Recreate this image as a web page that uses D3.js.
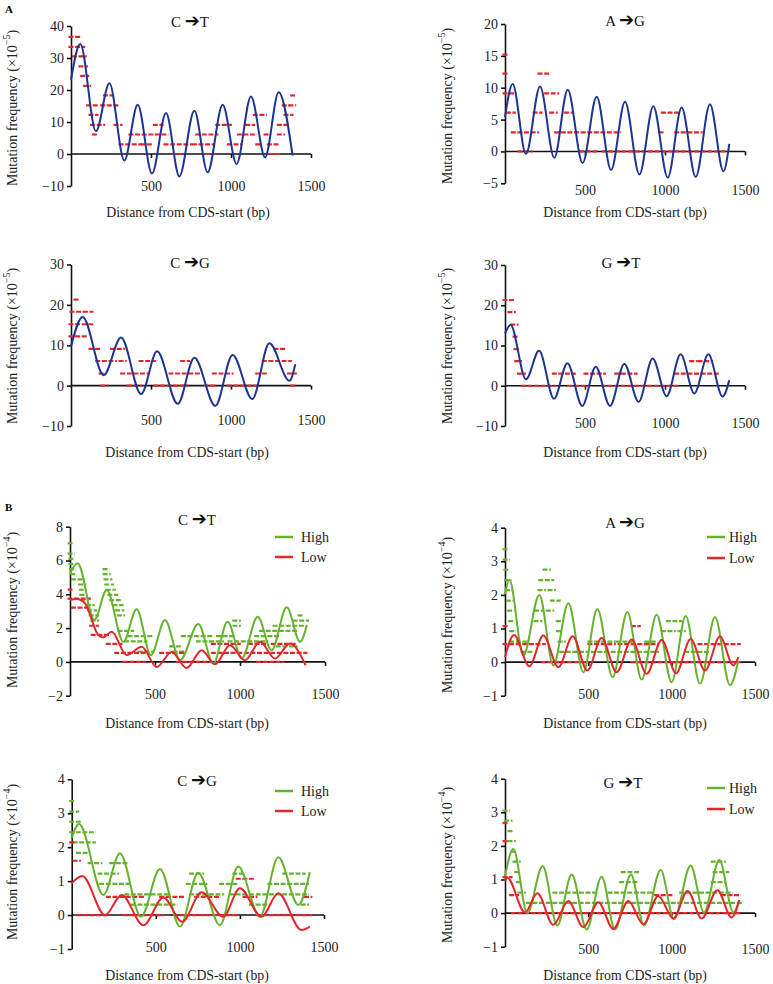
<!DOCTYPE html>
<html><head><meta charset="utf-8">
<script src="https://cdn.jsdelivr.net/npm/d3@7"></script>
<style>body{margin:0;background:#fff}svg{display:block}</style>
</head><body>
<svg id="c" width="773" height="984"></svg>
<script>
// ---------- DATA ----------
const xTicks = [500, 1000, 1500];
const yTicksA1 = [-10, 0, 10, 20, 30, 40];
const yTicksA2 = [-5, 0, 5, 10, 15, 20];
const yTicksA3 = [-10, 0, 10, 20, 30];
const yTicksB1 = [-2, 0, 2, 4, 6, 8];
const yTicksB2 = [-1, 0, 1, 2, 3, 4];

// A: C->T (x10^-5)
const a1CurveX = [0, 58, 156, 240, 333, 417, 506, 594, 677, 771, 854, 948, 1035, 1125, 1213, 1298, 1385];
const a1CurveY = [23.2, 34.4, 7.1, 22.1, -2.0, 15.4, -6.1, 12.8, -7.0, 13.5, -5.7, 15.4, -3.1, 18.0, -1.0, 19.3, -0.5];
const a1Runs = [[0,52,36.6],[0,73,33.5],[21,83,30.5],[62,90,27.4],[73,98,24.4],[90,110,21.3],[215,250,18.3],[110,156,15.2],[198,281,15.2],[1333,1354,15.2],[1375,1392,15.2],[125,156,12.2],[1152,1208,12.2],[1344,1375,12.2],[135,198,9.1],[281,306,9.1],[527,563,9.1],[917,990,9.1],[1104,1135,9.1],[1302,1344,9.1],[146,146,6.1],[375,594,6.1],[792,906,6.1],[1052,1146,6.1],[1219,1219,6.1],[1302,1323,6.1],[313,427,3.0],[448,490,3.0],[594,740,3.0],[771,885,3.0],[990,1052,3.0],[1167,1177,3.0],[1240,1281,3.0],[646,677,0],[854,885,0],[1250,1302,0],[1385,1385,18.3]];

// A: A->G
const a2CurveX = [0, 48, 131, 219, 308, 392, 485, 573, 663, 750, 840, 927, 1017, 1104, 1192, 1281, 1365, 1402];
const a2CurveY = [5.4, 10.6, -0.4, 10.2, -1.0, 9.7, -1.8, 8.6, -2.9, 7.8, -3.6, 7.1, -4.1, 6.9, -4.0, 7.4, -3.1, 1.2];
const a2Runs = [[0,8,15.2],[0,10,12.2],[219,260,12.2],[0,42,9.1],[260,323,9.1],[21,52,6.1],[188,219,6.1],[292,313,6.1],[385,406,6.1],[990,1083,6.1],[52,198,3.0],[323,708,3.0],[975,975,3.0],[1073,1219,3.0],[94,156,0],[480,560,0],[620,1385,0]];

// A: C->G
const a3CurveX = [0, 73, 204, 313, 438, 538, 667, 771, 902, 1010, 1133, 1240, 1365, 1402];
const a3CurveY = [9.7, 17.0, 2.6, 11.9, -2.1, 8.5, -4.5, 6.9, -5.0, 7.6, -3.3, 10.5, 1.2, 5.3];
const a3Runs = [[31,31,21.3],[6,63,18.3],[90,125,18.3],[0,125,15.2],[0,83,12.2],[125,177,9.1],[260,323,9.1],[1281,1323,9.1],[167,271,6.1],[313,333,6.1],[438,515,6.1],[698,729,6.1],[1208,1365,6.1],[188,198,3.0],[323,469,3.0],[625,802,3.0],[896,1000,3.0],[1167,1219,3.0],[1365,1396,3.0],[198,219,0],[365,427,0],[531,719,0],[844,885,0],[990,1156,0],[1385,1396,0]];

// A: G->T
const a4CurveX = [0, 35, 131, 213, 306, 390, 483, 567, 656, 746, 835, 923, 1010, 1098, 1183, 1271, 1360, 1402];
const a4CurveY = [13.0, 15.1, 1.6, 8.7, -3.2, 5.6, -5.0, 4.7, -5.0, 5.4, -4.0, 6.8, -2.6, 7.8, -1.9, 7.8, -2.7, 1.4];
const a4Runs = [[0,42,21.3],[31,52,18.3],[48,69,15.2],[63,73,12.2],[69,77,9.1],[73,90,6.1],[90,115,3.0],[308,427,3.0],[506,615,3.0],[698,813,3.0],[1073,1323,3.0],[1167,1188,6.1],[1219,1281,6.1],[115,302,0],[406,510,0],[615,1073,0]];

// B: C->T (x10^-4)
const b1HighX = [0, 45, 143, 216, 314, 392, 476, 559, 647, 755, 843, 927, 1010, 1104, 1186, 1275, 1353, 1392];
const b1HighY = [5.25, 5.84, 2.48, 4.26, 1.19, 3.11, 0.40, 2.48, 0.10, 2.24, -0.1, 2.38, 0.2, 2.67, 0.69, 3.23, 1.19, 2.12];
const b1LowX = [0, 39, 88, 167, 196, 245, 333, 422, 510, 598, 686, 775, 853, 941, 1029, 1118, 1206, 1294, 1386];
const b1LowY = [3.66, 3.72, 3.47, 1.58, 1.45, 1.78, 0.40, 0.89, -0.30, 0.59, -0.36, 0.69, -0.14, 0.99, 0.10, 1.19, 0.20, 1.09, -0.2];
const b1HighRuns = [[0,8,7.02],[0,12,6.41],[5,15,6.10],[5,18,5.80],[10,22,5.49],[15,25,5.19],[20,30,4.88],[59,75,4.88],[62,80,4.58],[66,84,4.27],[70,88,3.97],[75,92,3.66],[108,130,3.36],[115,145,3.05],[125,157,2.75],[135,157,2.44],[206,216,5.49],[206,225,5.19],[212,235,4.88],[216,245,4.58],[225,255,4.27],[235,270,3.97],[245,290,3.66],[265,300,3.36],[280,304,3.05],[290,310,2.75],[294,363,1.83],[353,480,1.53],[667,833,1.53],[333,441,1.22],[755,892,1.22],[412,480,0.61],[618,657,0.61],[598,647,0.92],[1324,1392,2.44],[1206,1382,2.14],[1127,1324,1.83],[873,951,1.53],[1098,1225,1.53],[941,1147,1.22],[1225,1324,0.92],[970,990,2.14],[970,990,2.44],[1353,1353,2.75]];
const b1LowRuns = [[0,108,3.75],[20,88,3.21],[0,5,4.28],[127,157,2.14],[137,225,1.60],[225,294,1.07],[275,431,0.535],[539,657,0.535],[843,1382,0.535],[843,990,1.07],[1061,1139,1.07],[1196,1314,1.07],[324,431,0],[637,843,0],[1108,1245,0]];

// B: A->G
const b2HighX = [0, 26, 110, 206, 290, 380, 470, 554, 646, 734, 820, 910, 1000, 1084, 1170, 1260, 1350, 1400];
const b2HighY = [2.03, 2.45, 0.2, 2.0, -0.1, 1.75, -0.3, 1.58, -0.45, 1.49, -0.52, 1.41, -0.6, 1.37, -0.64, 1.34, -0.69, 0.05];
const b2LowX = [0, 54, 146, 230, 320, 406, 494, 580, 670, 760, 850, 940, 1026, 1114, 1200, 1290, 1370, 1400];
const b2LowY = [0.15, 0.81, -0.12, 0.79, -0.15, 0.77, -0.25, 0.72, -0.3, 0.67, -0.35, 0.66, -0.33, 0.69, -0.25, 0.76, -0.1, 0.15];
const b2HighRuns = [[0,6,3.36],[0,14,3.05],[5,12,2.75],[10,24,2.44],[15,28,2.14],[20,34,1.83],[28,40,1.53],[34,46,1.22],[40,52,0.92],[40,130,0.61],[110,150,0.305],[240,260,2.75],[214,280,2.44],[210,230,2.14],[270,290,2.14],[284,320,1.83],[190,220,1.53],[260,280,1.53],[186,210,1.22],[320,340,1.22],[320,330,0.92],[330,350,0.61],[510,650,0.61],[680,770,0.61],[850,890,0.61],[340,490,0.305],[530,910,0.305],[1090,1210,0.305],[980,1050,1.22],[950,1010,0.92],[1050,1070,0.92]];
const b2LowRuns = [[0,4,1.07],[770,800,1.07],[0,230,0.535],[510,650,0.535],[690,910,0.535],[1170,1400,0.535],[230,490,0],[770,1400,0]];

// B: C->G
const b3HighX = [0, 44, 188, 287, 412, 525, 644, 752, 881, 990, 1119, 1228, 1347, 1416];
const b3HighY = [2.27, 2.68, 0.59, 1.82, -0.05, 1.36, -0.34, 1.25, -0.3, 1.43, -0.05, 1.70, 0.30, 1.26];
const b3LowX = [0, 63, 198, 297, 426, 545, 657, 772, 901, 1000, 1129, 1228, 1366, 1416];
const b3LowY = [0.94, 1.15, 0.0, 0.59, -0.3, 0.52, -0.2, 0.67, -0.05, 0.79, -0.05, 0.64, -0.44, -0.34];
const b3HighRuns = [[0,3,3.36],[0,30,3.05],[0,40,2.75],[0,129,2.44],[20,129,2.14],[40,89,1.83],[109,168,1.53],[168,267,1.22],[178,337,0.92],[238,327,1.53],[327,574,0.61],[713,891,0.61],[1109,1396,0.61],[366,614,0.305],[1069,1148,0.305],[1376,1396,0.305],[693,792,0.92],[891,970,0.92],[1178,1396,0.92],[713,772,1.22],[970,1010,1.22],[1267,1376,1.22],[950,1070,0.61]];
const b3LowRuns = [[0,10,2.14],[20,40,1.60],[990,1069,1.07],[218,416,0.535],[535,653,0.535],[743,871,0.535],[1030,1089,0.535],[1396,1416,0.535],[40,198,0],[317,535,0],[653,970,0],[1109,1416,0]];

// B: G->T
const b4HighX = [0, 50, 134, 226, 314, 400, 490, 580, 660, 756, 834, 934, 1014, 1114, 1194, 1286, 1370, 1406];
const b4HighY = [1.1, 1.91, 0.0, 1.40, -0.37, 1.15, -0.49, 1.08, -0.49, 1.15, -0.37, 1.28, -0.18, 1.42, 0.02, 1.58, 0.02, 0.39];
const b4LowX = [0, 14, 120, 194, 290, 380, 470, 560, 650, 740, 830, 920, 1010, 1096, 1180, 1274, 1360, 1406];
const b4LowY = [0.96, 1.05, 0.02, 0.59, -0.35, 0.36, -0.42, 0.32, -0.47, 0.36, -0.33, 0.51, -0.16, 0.66, -0.16, 0.68, -0.13, 0.39];
const b4HighRuns = [[0,14,3.05],[10,30,2.75],[30,40,2.44],[30,50,2.14],[50,60,1.83],[60,80,1.53],[70,80,1.22],[80,90,0.92],[90,110,0.61],[300,550,0.61],[630,850,0.61],[880,890,0.61],[1060,1350,0.61],[140,910,0.305],[930,1410,0.305],[710,790,1.22],[700,790,0.92],[1250,1310,0.92],[1250,1310,1.53],[1260,1330,1.22]];
const b4LowRuns = [[0,3,2.68],[0,10,2.14],[0,30,1.07],[40,70,0.535],[910,1000,0.535],[1310,1400,0.535],[50,1400,0]];

const seriesNames = ["High", "Low"];

// ---------- STYLE / LAYOUT ----------
const BLUE = "#1e3590", RED = "#e2272c", GREEN = "#66b22f";
const FONT = "'Liberation Serif','Times New Roman',serif";
const svg = d3.select("#c");

const panels = [
  {t:["C","T"], xr:[71,311], yr:[186,26], yd:[-10,40], yt:yTicksA1, exp:"−5", ylx:12, yly:108, xty:212, xtx:188, xly:186, tx:190, ty:22,
   series:[{x:a1CurveX,y:a1CurveY,runs:a1Runs,c:BLUE,rc:RED}]},
  {t:["A","G"], xr:[505,745], yr:[183.3,24], yd:[-5,20], yt:yTicksA2, exp:"−5", ylx:447, yly:106, xty:212, xtx:625, xly:190, tx:625, ty:21,
   series:[{x:a2CurveX,y:a2CurveY,runs:a2Runs,c:BLUE,rc:RED}]},
  {t:["C","G"], xr:[71,311], yr:[426,264.5], yd:[-10,30], yt:yTicksA3, exp:"−5", ylx:12, yly:346, xty:452, xtx:187, xly:420, tx:190, ty:263,
   series:[{x:a3CurveX,y:a3CurveY,runs:a3Runs,c:BLUE,rc:RED}]},
  {t:["G","T"], xr:[505,745], yr:[426,265], yd:[-10,30], yt:yTicksA3, exp:"−5", ylx:447, yly:346, xty:452, xtx:625, xly:423, tx:621, ty:263,
   series:[{x:a4CurveX,y:a4CurveY,runs:a4Runs,c:BLUE,rc:RED}]},
  {t:["C","T"], xr:[70,325], yr:[695.7,526.7], yd:[-2,8], yt:yTicksB1, exp:"−4", ylx:12, yly:610, xty:723, xtx:187, xly:694, tx:197, ty:520,
   leg:{x1:275,x2:293,tx:301,y1:537,y2:557},
   series:[{x:b1HighX,y:b1HighY,runs:b1HighRuns,c:GREEN,rc:GREEN},{x:b1LowX,y:b1LowY,runs:b1LowRuns,c:RED,rc:RED}]},
  {t:["A","G"], xr:[505,755], yr:[695.7,527.7], yd:[-1,4], yt:yTicksB2, exp:"−4", ylx:447, yly:615, xty:723, xtx:625, xly:694, tx:625, ty:523,
   leg:{x1:707,x2:725,tx:729,y1:537,y2:558},
   series:[{x:b2HighX,y:b2HighY,runs:b2HighRuns,c:GREEN,rc:GREEN},{x:b2LowX,y:b2LowY,runs:b2LowRuns,c:RED,rc:RED}]},
  {t:["C","G"], xr:[71.7,324], yr:[949,779.3], yd:[-1,4], yt:yTicksB2, exp:"−4", ylx:12, yly:862, xty:975, xtx:187, xly:947, tx:197, ty:781,
   leg:{x1:275,x2:293,tx:301,y1:791,y2:811},
   series:[{x:b3HighX,y:b3HighY,runs:b3HighRuns,c:GREEN,rc:GREEN},{x:b3LowX,y:b3LowY,runs:b3LowRuns,c:RED,rc:RED}]},
  {t:["G","T"], xr:[505,755], yr:[946.7,778.7], yd:[-1,4], yt:yTicksB2, exp:"−4", ylx:447, yly:865, xty:975, xtx:625, xly:949, tx:623, ty:783,
   leg:{x1:707,x2:725,tx:729,y1:788,y2:809},
   series:[{x:b4HighX,y:b4HighY,runs:b4HighRuns,c:GREEN,rc:GREEN},{x:b4LowX,y:b4LowY,runs:b4LowRuns,c:RED,rc:RED}]}
];

// section letters
svg.append("text").attr("x",5).attr("y",13).attr("font-family",FONT).attr("font-weight","bold").attr("font-size",11).text("A");
svg.append("text").attr("x",5).attr("y",511).attr("font-family",FONT).attr("font-weight","bold").attr("font-size",11).text("B");

const fmt = d3.format("d");

panels.forEach(p => {
  const g = svg.append("g");
  const x = d3.scaleLinear().domain([0,1500]).range(p.xr);
  const y = d3.scaleLinear().domain(p.yd).range(p.yr);

  // y axis
  const ya = g.append("g").attr("transform",`translate(${x(0)},0)`)
    .call(d3.axisLeft(y).tickValues(p.yt).tickSize(4).tickSizeOuter(0).tickPadding(3).tickFormat(fmt));
  // x axis at zero
  const xa = g.append("g").attr("transform",`translate(0,${y(0)})`)
    .call(d3.axisBottom(x).tickValues(xTicks).tickSize(4).tickSizeOuter(0).tickFormat(fmt));
  [ya, xa].forEach(a => {
    a.attr("font-family", FONT).attr("font-size", 14);
    a.selectAll("path,line").attr("stroke","#111").attr("stroke-width",1.6);
    a.selectAll("text").attr("fill","#222");
  });
  xa.select(".domain").attr("d", `M${x(0)},0H${x(1500)}`);
  xa.selectAll("text").attr("y", p.xly - y(0)).attr("dy","0.35em");

  // data dashes
  p.series.forEach(s => {
    g.append("g").selectAll("line").data(s.runs).join("line")
      .attr("x1", d => x(d[0]) - 2.5).attr("x2", d => x(d[1]) + 2.5)
      .attr("y1", d => y(d[2])).attr("y2", d => y(d[2]))
      .attr("stroke", s.rc).attr("stroke-width", 2.2)
      .attr("stroke-dasharray", "5,1.6");
  });
  // fitted curves
  p.series.forEach(s => {
    const line = d3.line().x(i => x(s.x[i])).y(i => y(s.y[i])).curve(d3.curveMonotoneX);
    g.append("path").attr("d", line(d3.range(s.x.length)))
      .attr("fill","none").attr("stroke", s.c).attr("stroke-width", 2);
  });

  // title  X -> Y
  const tt = g.append("text").attr("x",p.tx).attr("y",p.ty).attr("dy","0.35em")
    .attr("text-anchor","middle").attr("font-family",FONT).attr("font-size",15).attr("fill","#111");
  tt.append("tspan").text(p.t[0] + " ");
  tt.append("tspan").attr("font-family","'DejaVu Sans'").attr("font-size",18).text("➔");
  tt.append("tspan").text(p.t[1]);

  // y label
  const yl = g.append("text").attr("transform",`translate(${p.ylx},${p.yly}) rotate(-90)`)
    .attr("text-anchor","middle").attr("dy","0.35em").attr("font-family",FONT).attr("font-size",14).attr("fill","#222");
  yl.append("tspan").text("Mutation frequency (×10");
  yl.append("tspan").attr("font-size",10).attr("dy","-0.7em").text(p.exp);
  yl.append("tspan").attr("dy","0.5em").text(")");

  // x label
  g.append("text").attr("x",p.xtx).attr("y",p.xty).attr("dy","0.35em").attr("text-anchor","middle")
    .attr("font-family",FONT).attr("font-size",13.8).attr("fill","#222").text("Distance from CDS-start (bp)");

  // legend
  if (p.leg) {
    const L = p.leg;
    [[L.y1, GREEN, seriesNames[0]], [L.y2, RED, seriesNames[1]]].forEach(([yy, c, name]) => {
      g.append("line").attr("x1",L.x1).attr("x2",L.x2).attr("y1",yy).attr("y2",yy).attr("stroke",c).attr("stroke-width",2.5);
      g.append("text").attr("x",L.tx).attr("y",yy).attr("dy","0.35em").attr("font-family",FONT).attr("font-size",14).attr("fill","#222").text(name);
    });
  }
});
</script>
</body></html>
